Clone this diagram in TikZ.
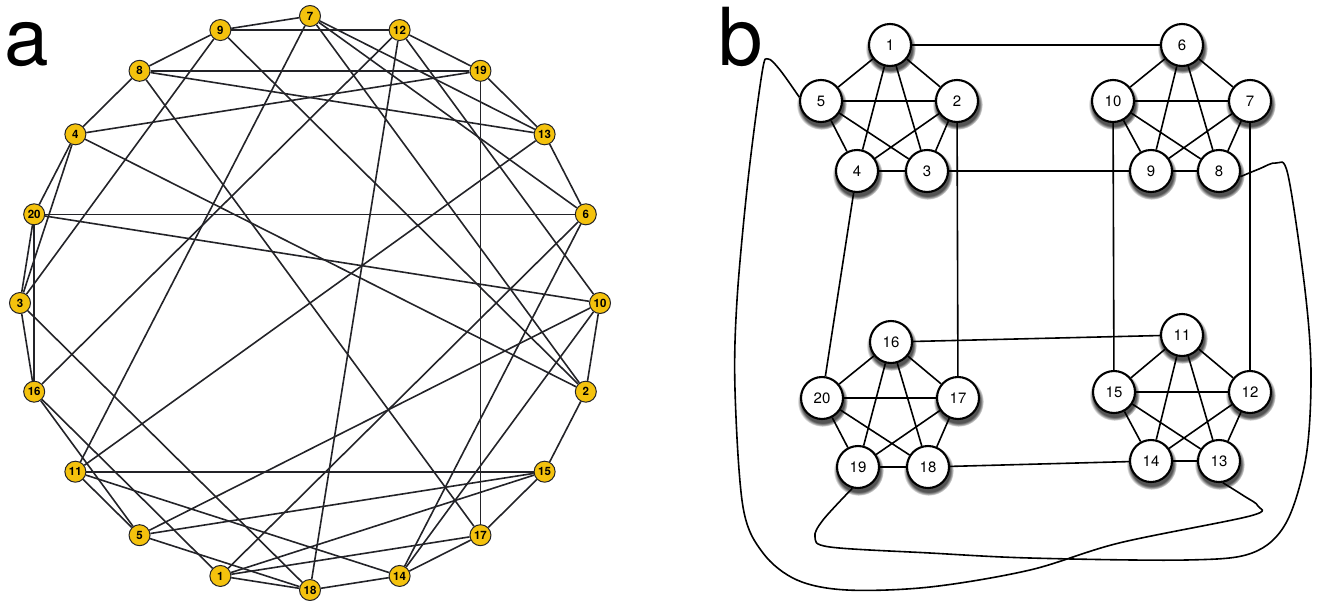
\documentclass[tikz,border=0pt]{standalone}
\usepackage{fontspec}
\setmainfont{TeX Gyre Heros}
\usetikzlibrary{shadows}
\definecolor{Gold}{RGB}{244,194,13}
\definecolor{Ink}{RGB}{35,35,40}

\tikzset{
  anode/.style={circle, draw=Ink, fill=Gold, line width=1pt, minimum size=21pt,
    inner sep=0pt, font=\bfseries\fontsize{11.5}{11.5}\selectfont},
  bnode/.style={circle, draw=black, fill=white, line width=2.1pt, minimum size=42pt,
    inner sep=0pt, font=\fontsize{15}{15}\selectfont,
    circular drop shadow={shadow xshift=0.5pt, shadow yshift=-3pt, shadow scale=1.2,
      opacity=0.9, fill=black!75}},
  aedge/.style={Ink, line width=1.6pt},
  bedge/.style={black, line width=1.6pt},
  panel/.style={anchor=base west, inner sep=0pt, font=\fontsize{80}{80}\selectfont}
}

\begin{document}
\begin{tikzpicture}[x=1pt, y=-1pt]
  \useasboundingbox (0,0) rectangle (1319,600);

  % a: nodes on a circle
  \node[panel] (lbla) at (4,65) {a};
  \foreach \n/\ang in {7/90,12/72,19/54,13/36,6/18,10/0,2/-18,15/-36,17/-54,14/-72,
      18/-90,1/-108,5/-126,11/-144,16/-162,3/180,20/162,4/144,8/126,9/108}
    \node[anode] (a\n) at ({310+290*cos(\ang)},{303-287*sin(\ang)}) {\n};
  \foreach \u/\v in {9/7,9/12,9/8,9/3,9/2, 7/13,7/6,7/11,7/2, 8/4,8/19,8/13,8/17,
      4/20,4/3,4/19,4/2, 20/3,20/16,20/6,20/10, 3/16,3/18, 16/12,16/5,16/1,
      11/13,11/15,11/5,11/14, 5/10,5/15,5/18, 1/6,1/15,1/17,1/18, 15/2,15/17,
      17/14,17/19, 14/18,14/6,14/10, 18/12, 12/19,12/10, 19/13, 13/6, 10/2}
    \draw[aedge] (a\u) -- (a\v);

  % b: four groups of five
  \node[panel] (lblb) at (718,65) {b};
  \node[bnode] (b1) at (890,45) {1};
  \node[bnode] (b2) at (957,101) {2};
  \node[bnode] (b3) at (927,171) {3};
  \node[bnode] (b4) at (857,171) {4};
  \node[bnode] (b5) at (821,101) {5};
  \node[bnode] (b6) at (1182,45) {6};
  \node[bnode] (b7) at (1250,101) {7};
  \node[bnode] (b8) at (1219,171) {8};
  \node[bnode] (b9) at (1151,171) {9};
  \node[bnode] (b10) at (1113,101) {10};
  \node[bnode] (b11) at (1182,335) {11};
  \node[bnode] (b12) at (1250,392) {12};
  \node[bnode] (b13) at (1219,461) {13};
  \node[bnode] (b14) at (1151,461) {14};
  \node[bnode] (b15) at (1114,392) {15};
  \node[bnode] (b16) at (891,342) {16};
  \node[bnode] (b17) at (958,398) {17};
  \node[bnode] (b18) at (928,467) {18};
  \node[bnode] (b19) at (858,467) {19};
  \node[bnode] (b20) at (822,398) {20};

  \foreach \a/\b/\c/\d/\e in {1/2/3/4/5, 6/7/8/9/10, 11/12/13/14/15, 16/17/18/19/20}
    \draw[bedge] (b\a) -- (b\b) (b\a) -- (b\c) (b\a) -- (b\d) (b\a) -- (b\e)
      (b\b) -- (b\c) (b\b) -- (b\d) (b\b) -- (b\e)
      (b\c) -- (b\d) (b\c) -- (b\e) (b\d) -- (b\e);
  \foreach \u/\v in {1/6, 3/9, 4/20, 2/17, 10/15, 7/12, 16/11, 18/14}
    \draw[bedge] (b\u) -- (b\v);

  % long links round the outside
  \draw[bedge] plot[smooth, tension=0.55] coordinates {(b5.170) (780,70) (768,59) (762,73)
    (748,180) (737,300) (735,390) (743,507) (763,553) (797,580) (847,590) (930,587)
    (1030,570) (1119,543) (1250,516) (1258,506) (1244,496) (b13.-80)};
  \draw[bedge] plot[smooth, tension=0.55] coordinates {(b19.255) (823,520) (815,537)
    (830,547) (930,553) (1030,558) (1186,560) (1252,553) (1286,523) (1306,457)
    (1311,373) (1305,290) (1288,175) (1276,163) (1259,169) (b8.-15)};
\end{tikzpicture}
\end{document}
